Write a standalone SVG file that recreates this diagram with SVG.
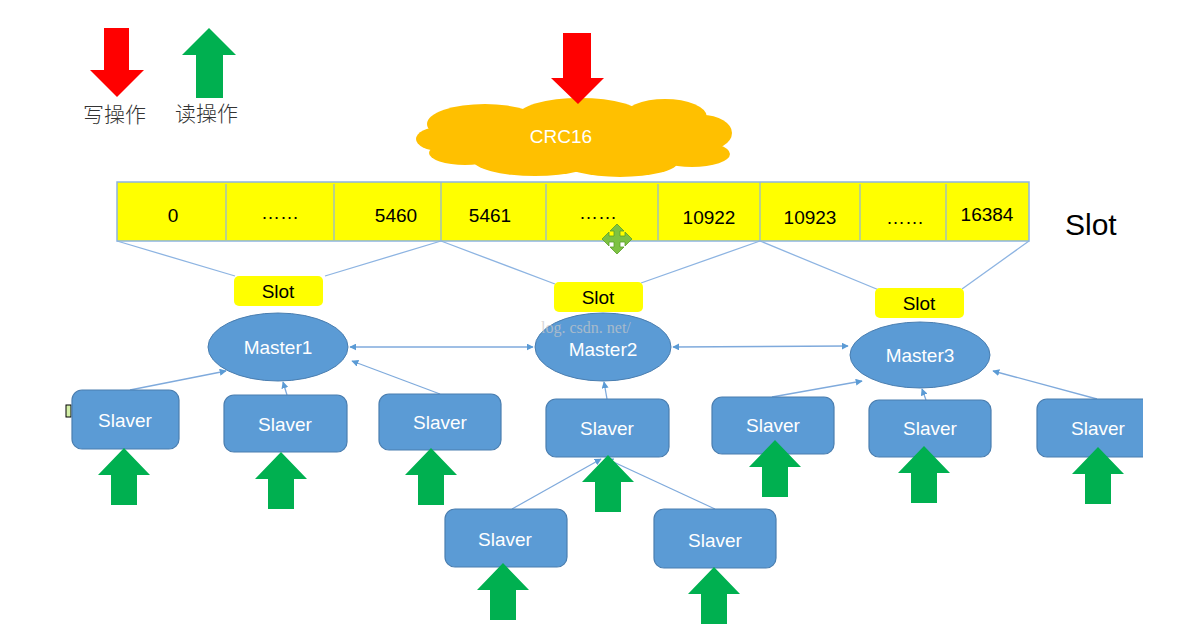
<svg xmlns="http://www.w3.org/2000/svg" xmlns:xlink="http://www.w3.org/1999/xlink" width="1203" height="643" viewBox="0 0 1203 643">
<style>
.t{font-family:"Liberation Sans","Open Sans",sans-serif;}
.cn{font-family:"Noto Sans CJK SC","Liberation Serif",serif;font-size:21px;fill:#333;font-weight:300;}
.slave{fill:#5B9BD5;stroke:#4A7EB0;stroke-width:1.2;}
.slot{fill:#FFFF00;}
.wt{fill:#fff;font-size:19px;text-anchor:middle;}
.bk{fill:#000;font-size:19px;text-anchor:middle;}
.ln{stroke:#8DB4E2;stroke-width:1.3;fill:none;}
.ca{stroke:#7FAADC;stroke-width:1.3;fill:none;marker-end:url(#ah);}
.cb{stroke:#7FAADC;stroke-width:1.3;fill:none;marker-end:url(#ah);marker-start:url(#as);}
.g{fill:#00B050;}
.r{fill:#FF0000;}
.cell{stroke:#8DB4E2;stroke-width:1.2;}
</style>
<defs>
<marker id="ah" viewBox="0 0 10 10" refX="9" refY="5" markerWidth="7" markerHeight="7" markerUnits="userSpaceOnUse" orient="auto"><path d="M0,0 L10,5 L0,10 Z" fill="#5B9BD5"/></marker>
<marker id="as" viewBox="0 0 10 10" refX="1" refY="5" markerWidth="7" markerHeight="7" markerUnits="userSpaceOnUse" orient="auto"><path d="M10,0 L0,5 L10,10 Z" fill="#5B9BD5"/></marker>
<path id="up" d="M0,0 L26,27 L13,27 L13,57 L-13,57 L-13,27 L-26,27 Z"/>
</defs>
<rect width="1203" height="643" fill="#fff"/>

<g id="legend">
<polygon class="r" points="104,28 129,28 129,70 144,70 117,97 90,70 104,70"/>
<text class="cn" x="83" y="122">写操作</text>
<polygon class="g" points="209,28 236,55 223,55 223,98 196,98 196,55 182,55"/>
<text class="cn" x="175" y="121">读操作</text>
</g>

<g id="crc16">
<g fill="#FFC000">
<ellipse cx="575" cy="138" rx="152" ry="28"/>
<ellipse cx="485" cy="124" rx="58" ry="20"/>
<ellipse cx="580" cy="116" rx="62" ry="18"/>
<ellipse cx="665" cy="117" rx="42" ry="18"/>
<ellipse cx="702" cy="133" rx="30" ry="18"/>
<ellipse cx="440" cy="139" rx="24" ry="12"/>
<ellipse cx="465" cy="153" rx="36" ry="12"/>
<ellipse cx="535" cy="160" rx="62" ry="16"/>
<ellipse cx="620" cy="162" rx="58" ry="15"/>
<ellipse cx="692" cy="154" rx="38" ry="13"/>
</g>
<polygon class="r" points="563,33 591,33 591,78 604,78 578,104 551,78 563,78"/>
<text class="t wt" x="561" y="143" font-size="19">CRC16</text>
</g>

<g id="slotbar">
<rect x="117" y="182" width="912" height="59" fill="#FFFF00" stroke="#8DB4E2" stroke-width="1.5"/>
<g class="cell">
<line x1="226" y1="184" x2="226" y2="240"/>
<line x1="334" y1="184" x2="334" y2="240"/>
<line x1="441" y1="182" x2="441" y2="241"/>
<line x1="546" y1="184" x2="546" y2="240"/>
<line x1="658" y1="184" x2="658" y2="240"/>
<line x1="760" y1="182" x2="760" y2="241"/>
<line x1="860" y1="184" x2="860" y2="240"/>
<line x1="946" y1="184" x2="946" y2="240"/>
</g>
<g class="t" font-size="19" fill="#000" text-anchor="middle">
<text x="173" y="222">0</text>
<text x="280" y="219">……</text>
<text x="396" y="222">5460</text>
<text x="490" y="222">5461</text>
<text x="598" y="219">……</text>
<text x="709" y="224">10922</text>
<text x="810" y="224">10923</text>
<text x="905" y="224">……</text>
<text x="987" y="221">16384</text>
</g>
<text class="t" x="1065" y="235" font-size="30" fill="#000">Slot</text>
</g>

<g id="cursor" fill="#7DC242" stroke="#5A9E2A" stroke-width="0.8">
<polygon points="617,224 624,231 620,231 620,236 625,236 625,232 632,239 625,246 625,242 620,242 620,247 624,247 617,254 610,247 614,247 614,242 609,242 609,246 602,239 609,232 609,236 614,236 614,231 610,231"/>
</g>
<rect x="66" y="405" width="5" height="12" fill="#D4F0A8" stroke="#000" stroke-width="1"/>
<polygon points="1140,405 1145,410 1140,415 1135,410" fill="#7DC242"/>

<g id="connectors">
<line class="ln" x1="117" y1="241" x2="235" y2="276"/>
<line class="ln" x1="441" y1="241" x2="325" y2="276"/>
<line class="ln" x1="441" y1="241" x2="555" y2="284"/>
<line class="ln" x1="760" y1="241" x2="641" y2="283"/>
<line class="ln" x1="760" y1="241" x2="879" y2="290"/>
<line class="ln" x1="1029" y1="241" x2="962" y2="289"/>
<line class="cb" x1="350" y1="347" x2="533" y2="347"/>
<line class="cb" x1="673" y1="347" x2="848" y2="346"/>
<line class="ca" x1="130" y1="390" x2="226" y2="371"/>
<line class="ca" x1="287" y1="395" x2="283" y2="382"/>
<line class="ca" x1="440" y1="394" x2="352" y2="361"/>
<line class="ca" x1="607" y1="399" x2="604" y2="382"/>
<line class="ca" x1="772" y1="397" x2="862" y2="381"/>
<line class="ca" x1="926" y1="400" x2="922" y2="389"/>
<line class="ca" x1="1097" y1="399" x2="993" y2="371"/>
<line class="ca" x1="512" y1="509" x2="601" y2="459"/>
<line class="ca" x1="715" y1="509" x2="607" y2="459"/>
</g>

<g id="slot1"><rect class="slot" x="234" y="276" width="89" height="30" rx="5"/><text class="t bk" x="278" y="298">Slot</text></g>
<g id="slot2"><rect class="slot" x="554" y="282" width="89" height="30" rx="5"/><text class="t bk" x="598" y="304">Slot</text></g>
<g id="slot3"><rect class="slot" x="875" y="288" width="89" height="30" rx="5"/><text class="t bk" x="919" y="310">Slot</text></g>

<g id="master1"><ellipse cx="278" cy="347" rx="70" ry="34" fill="#5B9BD5" stroke="#4A7EB0" stroke-width="1"/><text class="t wt" x="278" y="354">Master1</text></g>
<g id="master2"><ellipse cx="603" cy="347" rx="68" ry="34" fill="#5B9BD5" stroke="#4A7EB0" stroke-width="1"/><text class="t wt" x="603" y="356">Master2</text></g>
<g id="master3"><ellipse cx="920" cy="355" rx="70" ry="33" fill="#5B9BD5" stroke="#4A7EB0" stroke-width="1"/><text class="t wt" x="920" y="362">Master3</text></g>
<text x="541" y="333" font-family="Liberation Serif,serif" font-size="16" fill="#c8c8c8" opacity="0.7">log. csdn. net/</text>

<g id="slave1"><rect class="slave" x="72" y="390" width="107" height="59" rx="10"/><text class="t wt" x="125" y="427">Slaver</text></g>
<g id="slave2"><rect class="slave" x="224" y="395" width="123" height="57" rx="10"/><text class="t wt" x="285" y="431">Slaver</text></g>
<g id="slave3"><rect class="slave" x="379" y="394" width="122" height="56" rx="10"/><text class="t wt" x="440" y="429">Slaver</text></g>
<g id="slave4"><rect class="slave" x="546" y="399" width="123" height="58" rx="10"/><text class="t wt" x="607" y="435">Slaver</text></g>
<g id="slave5"><rect class="slave" x="712" y="397" width="122" height="57" rx="10"/><text class="t wt" x="773" y="432">Slaver</text></g>
<g id="slave6"><rect class="slave" x="869" y="400" width="122" height="57" rx="10"/><text class="t wt" x="930" y="435">Slaver</text></g>
<g id="slave7"><rect class="slave" x="1037" y="399" width="116" height="58" rx="10"/><text class="t wt" x="1098" y="435">Slaver</text></g>
<g id="slave8"><rect class="slave" x="445" y="509" width="122" height="58" rx="10"/><text class="t wt" x="505" y="546">Slaver</text></g>
<g id="slave9"><rect class="slave" x="654" y="509" width="122" height="59" rx="10"/><text class="t wt" x="715" y="547">Slaver</text></g>
<rect x="1143" y="380" width="60" height="100" fill="#fff"/>

<g id="reads" class="g">
<use xlink:href="#up" x="124" y="448"/>
<use xlink:href="#up" x="281" y="452"/>
<use xlink:href="#up" x="431" y="448"/>
<use xlink:href="#up" x="608" y="455"/>
<use xlink:href="#up" x="775" y="440"/>
<use xlink:href="#up" x="924" y="446"/>
<use xlink:href="#up" x="1098" y="447"/>
<use xlink:href="#up" x="503" y="563"/>
<use xlink:href="#up" x="714" y="567"/>
</g>
</svg>
